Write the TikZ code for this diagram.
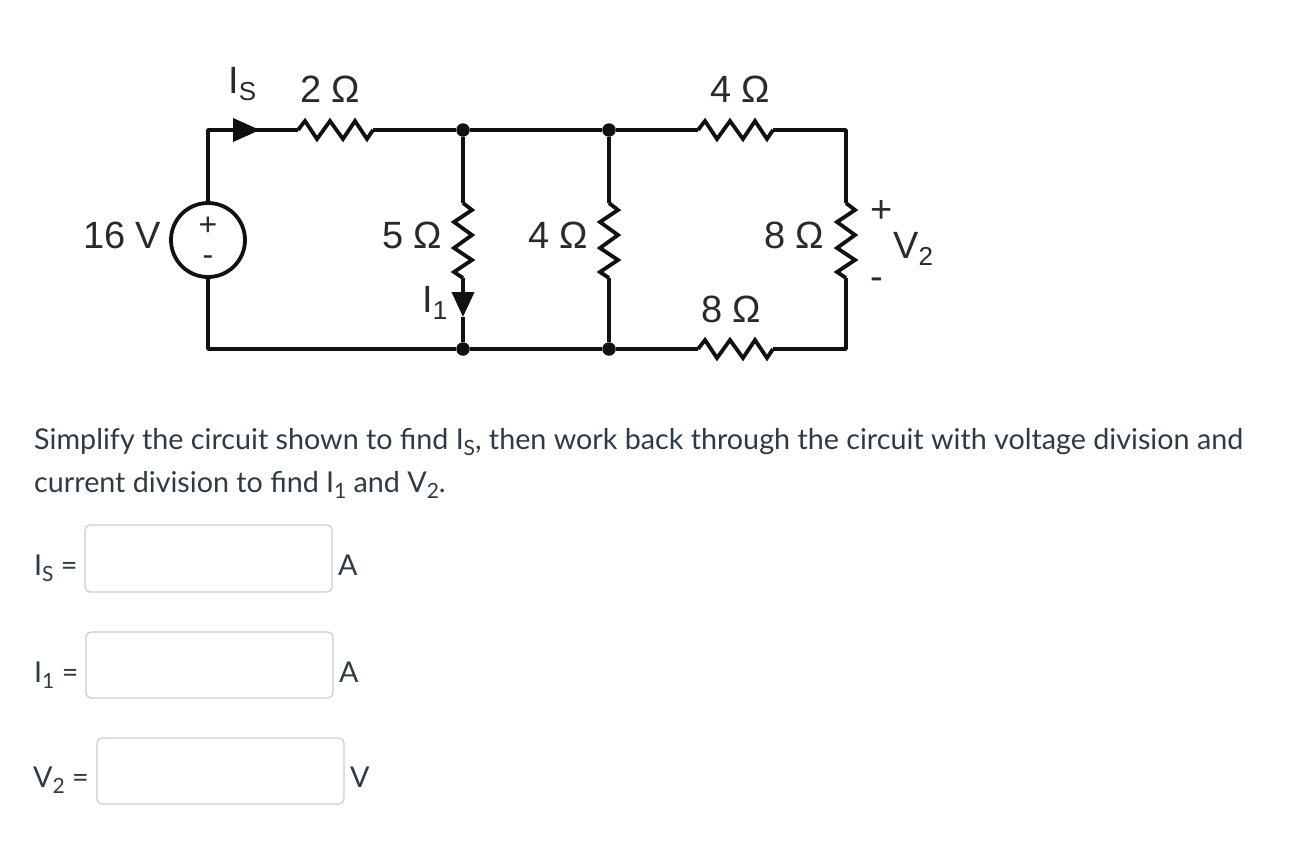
\documentclass[tikz,border=0pt]{standalone}
\usepackage{fontspec}
\setmainfont{Lato}
\newfontfamily\cktfont{Liberation Sans}
\usetikzlibrary{arrows.meta}
\definecolor{inktext}{HTML}{2D3B45}
\definecolor{boxline}{HTML}{C7CDD1}
\definecolor{cktline}{HTML}{111111}
\definecolor{ckttext}{HTML}{2A2A2A}
\newcommand{\cktsub}[1]{\raisebox{-0.2em}{{\fontsize{26}{28}\selectfont #1}}}
\newcommand{\qsub}[1]{\raisebox{-0.22em}{{\fontsize{21}{24}\selectfont #1}}}
\tikzset{
  wire/.style={line width=3.8pt, color=cktline},
  junction/.style={circle, fill=cktline, inner sep=0pt, minimum size=13.5pt},
  source/.style={circle, draw=cktline, line width=3.8pt, fill=white, inner sep=0pt, minimum size=74pt},
  ckt/.style={anchor=base west, inner sep=0pt, text=ckttext, font=\cktfont\fontsize{38}{42}\selectfont},
  cktsmall/.style={anchor=center, inner sep=0pt, text=ckttext, font=\cktfont\fontsize{38}{42}\selectfont},
  cktinner/.style={anchor=center, inner sep=0pt, text=ckttext, font=\cktfont\fontsize{32}{34}\selectfont},
  qtext/.style={anchor=base west, inner sep=0pt, text=inktext, font=\fontsize{28.7}{34}\selectfont},
  ansbox/.style={draw=boxline, line width=1.2pt, fill=white, rounded corners=5pt},
  resistor/.pic={
    \draw[wire] (0,0) -- (7,-9) -- (19,9) -- (32,-9) -- (45,9) -- (57,-9) -- (69,9) -- (75,0);
  }
}

\begin{document}
\begin{tikzpicture}[x=1pt, y=-1pt]
\useasboundingbox (0,0) rectangle (1294,846);

\node[source] (src) at (208,240) {};
\node[junction] (topa) at (463,130) {};
\node[junction] (topb) at (609,130) {};
\node[junction] (bota) at (463,349) {};
\node[junction] (botb) at (609,349) {};

\coordinate (tl) at (208,130);
\coordinate (bl) at (208,349);
\coordinate (tr) at (846,130);
\coordinate (br) at (846,349);
\coordinate (istip) at (260,130);
\coordinate (ionetip) at (463,317);
\coordinate (rtwoa) at (298,130);
\coordinate (rtwob) at (373,130);
\coordinate (rfoura) at (698,130);
\coordinate (rfourb) at (773,130);
\coordinate (reighta) at (698,349);
\coordinate (reightb) at (773,349);
\coordinate (rfivea) at (463,203);
\coordinate (rfiveb) at (463,278);
\coordinate (rmida) at (609,203);
\coordinate (rmidb) at (609,278);
\coordinate (rvtwoa) at (846,203);
\coordinate (rvtwob) at (846,278);

\draw[wire, line join=round] (src.north) -- (tl) -- (istip);
\draw[wire, -{Triangle[length=27pt,width=23pt]}] (tl) -- (istip);
\draw[wire] (istip) -- (rtwoa);
\pic at (rtwoa) {resistor};
\draw[wire] (rtwob) -- (topa);
\draw[wire] (topa) -- (topb);
\draw[wire] (topb) -- (rfoura);
\pic at (rfoura) {resistor};
\draw[wire, line join=round] (rfourb) -- (tr) -- (rvtwoa);
\pic[rotate=-90] at (rvtwoa) {resistor};
\draw[wire, line join=round] (rvtwob) -- (br) -- (reightb);
\pic at (reighta) {resistor};
\draw[wire] (reighta) -- (botb);
\draw[wire] (botb) -- (bota);
\draw[wire, line join=round] (bota) -- (bl) -- (src.south);

\draw[wire] (topa) -- (rfivea);
\pic[rotate=-90] at (rfivea) {resistor};
\draw[wire, -{Triangle[length=25pt,width=22pt]}] (rfiveb) -- (ionetip);
\draw[wire] (ionetip) -- (bota);
\draw[wire] (topb) -- (rmida);
\pic[rotate=-90] at (rmida) {resistor};
\draw[wire] (rmidb) -- (botb);

\node[ckt] (lblvs) at (83,248) {16 V};
\node[cktinner] (lblplus) at (208,226) {+};
\node[cktinner] (lblminus) at (208,261) {-};
\node[ckt] (lblis) at (228,93) {I\cktsub{S}};
\node[ckt] (lblrtwo) at (300,102) {2 Ω};
\node[ckt] (lblrfive) at (382,248) {5 Ω};
\node[ckt] (lblione) at (422,312) {I\cktsub{1}};
\node[ckt] (lblrmid) at (528,248) {4 Ω};
\node[ckt] (lblrfour) at (710,102) {4 Ω};
\node[ckt] (lblrvtwo) at (764,248) {8 Ω};
\node[ckt] (lblreight) at (701,322) {8 Ω};
\node[cktsmall] (lblvplus) at (882,212) {+};
\node[ckt] (lblvtwo) at (893,258) {V\cktsub{2}};
\node[cktsmall] (lblvminus) at (877,284) {-};

\node[qtext] (lineone) at (34,449) {Simplify the circuit shown to find I\qsub{S}, then work back through the circuit with voltage division and};
\node[qtext] (linetwo) at (34,492) {current division to find I\qsub{1} and V\qsub{2}.};

\draw[ansbox] (85,525) rectangle (332,592);
\draw[ansbox] (86,632) rectangle (333,698);
\draw[ansbox] (97,738) rectangle (344,804);

\node[qtext] (askis) at (34,575) {I\qsub{S} =};
\node[qtext] (unitis) at (338,575) {A};
\node[qtext] (askione) at (34,682) {I\qsub{1} =};
\node[qtext] (unitione) at (339,682) {A};
\node[qtext] (askvtwo) at (33,787) {V\qsub{2} =};
\node[qtext] (unitvtwo) at (350,787) {V};

\end{tikzpicture}
\end{document}
